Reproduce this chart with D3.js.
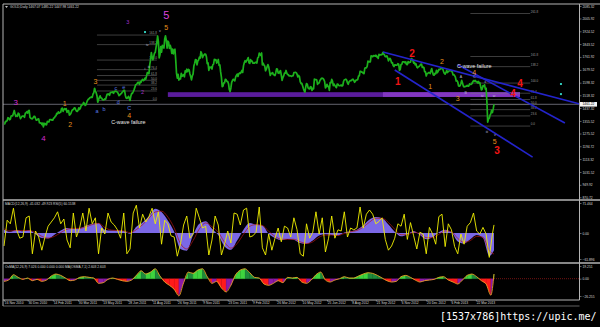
<!DOCTYPE html>
<html>
<head>
<meta charset="utf-8">
<title>GOLD, Daily</title>
<script src="https://cdnjs.cloudflare.com/ajax/libs/d3/7.8.5/d3.min.js"></script>
<style>
  body { margin: 0; background: #000; }
  svg { display: block; }
  text { font-family: "Liberation Sans", Arial, sans-serif; }
</style>
</head>
<body>
<svg id="chart" width="600" height="327"></svg>
<script>
// daily closes, one per bar, 16 Nov 2010 .. 25 Apr 2013
var closes = [
  1338,1337,1353,1352,1359,1376,1374,1363,1366,1386,
  1388,1388,1405,1422,1401,1384,1391,1385,1405,1402,1384,1370,1378,1386,1386,1387,1379,1404,1407,1414,1405,1421,
  1422,1378,1373,1370,1369,1376,1384,1385,1372,1360,1362,1368,1369,1344,1342,1343,1333,1342,1318,1341,1332,
  1339,1331,1353,1349,1349,1364,1364,1364,1360,1361,1374,1375,1385,1388,1404,1401,1413,1405,1409,1411,
  1433,1437,1416,1428,1434,1428,1434,1410,1420,1421,1393,1396,1404,1419,1426,1428,1437,1439,1428,1418,1416,1423,1439,
  1429,1437,1453,1458,1459,1473,1466,1454,1458,1473,1486,1493,1496,1503,1505,1508,1505,1527,1535,1563,
  1545,1535,1516,1475,1490,1505,1515,1501,1500,1492,1489,1490,1496,1494,1510,1526,1524,1527,1518,1536,1537,1536,
  1540,1531,1542,1543,1545,1541,1539,1529,1516,1520,1527,1530,1538,1542,1550,1550,1519,1501,1499,1503,1512,1500,
  1486,1513,1530,1530,1541,1553,1567,1584,1588,1593,1601,1600,1588,1605,1601,1614,1620,1611,1616,1628,
  1621,1642,1663,1659,1655,1713,1742,1790,1761,1744,1763,1785,1791,1822,1852,1895,1857,1756,1775,1828,1793,1835,1826,
  1818,1876,1896,1868,1818,1862,1855,1816,1836,1818,1785,1812,1781,1805,1811,1742,1657,1627,1651,1615,1623,1622,
  1658,1639,1642,1650,1636,1673,1664,1684,1669,1683,1679,1654,1637,1616,1641,1653,1704,1721,1745,1744,1712,
  1736,1743,1760,1755,1795,1783,1758,1770,1775,1781,1779,1761,1719,1724,1677,1697,1694,1698,1685,1712,1716,1746,
  1742,1745,1723,1730,1746,1709,1711,1667,1632,1573,1577,1597,1597,1620,1617,1607,1605,1592,1555,1542,1565,
  1600,1612,1620,1616,1610,1634,1645,1653,1638,1655,1660,1657,1664,1676,1664,1705,1725,1738,1729,1739,
  1745,1758,1725,1721,1745,1734,1736,1722,1722,1722,1728,1727,1723,1756,1759,1786,1776,1771,1787,1711,
  1722,1710,1704,1674,1684,1699,1713,1700,1672,1644,1657,1657,1662,1649,1648,1644,1662,1686,1685,1660,1658,1669,
  1675,1647,1613,1631,1641,1659,1659,1676,1659,1650,1650,1641,1642,1642,1638,1642,1643,1662,1663,1664,
  1662,1652,1635,1644,1638,1605,1593,1594,1579,1561,1547,1539,1572,1593,1589,1565,1560,1559,1573,1571,1549,1563,1560,
  1621,1617,1618,1616,1588,1595,1597,1612,1619,1626,1627,1625,1618,1606,1565,1572,1588,1575,1575,1550,1599,
  1597,1619,1608,1580,1590,1580,1573,1567,1590,1588,1581,1579,1580,1584,1577,1580,1606,1617,1618,1621,1614,
  1597,1588,1604,1609,1612,1612,1618,1621,1613,1601,1608,1615,1616,1618,1640,1642,1670,1671,1666,1666,1657,1656,1690,
  1693,1693,1702,1736,1730,1732,1731,1769,1768,1763,1770,1770,1767,1773,1763,1765,1753,1778,1774,
  1776,1775,1778,1791,1781,1774,1764,1764,1769,1757,1737,1747,1753,1743,1724,1726,1708,1701,1712,1711,1709,1711,1719,
  1716,1676,1683,1714,1716,1731,1731,1731,1725,1730,1714,1713,1733,1725,1728,1729,1751,1749,1741,1723,1728,1712,
  1718,1697,1693,1700,1702,1708,1715,1717,1695,1697,1695,1668,1667,1641,1657,1658,1662,1663,1656,1675,
  1688,1664,1648,1646,1657,1655,1677,1662,1669,1683,1681,1687,1687,1692,1685,1669,1658,1653,1662,1677,1663,
  1669,1673,1675,1677,1671,1667,1648,1649,1644,1634,1609,1611,1603,1578,1576,1580,1593,1613,1597,1578,
  1572,1573,1575,1576,1581,1576,1577,1591,1587,1588,1592,1603,1612,1608,1613,1606,1605,1597,1606,1596,
  1599,1576,1553,1558,1580,1575,1585,1558,1563,1476,1348,1368,1373,1393,1402,1423,1409,1432,1461.22
];

var dateLabels = ["16 Nov 2010","30 Dec 2010","14 Feb 2011","30 Mar 2011","13 May 2011","28 Jun 2011",
  "11 Aug 2011","26 Sep 2011","9 Nov 2011","23 Dec 2011","9 Feb 2012","26 Mar 2012","10 May 2012",
  "25 Jun 2012","8 Aug 2012","21 Sep 2012","6 Nov 2012","20 Dec 2012","6 Feb 2013","22 Mar 2013"];
var dateBars = [0,30,62,94,125,157,188,220,252,284,315,346,378,410,441,472,504,536,567,599];

var priceTicks = [2085.32,2005.92,1924.52,1843.52,1761.92,1679.52,1598.32,1518.32,
  1437.32,1355.52,1275.52,1194.72,1113.32,1031.52,949.92,870.72];
var lastPrice = 1461.22;

// MACD main and signal, one value every 8 bars (last one on the final bar)
var macdVals = [8,3,8,4,7,-3,-12,-13,-4,6,
  12,10,11,17,22,24,8,6,6,5,
  -2,15,25,40,58,50,30,3,-38,-42,
  -5,22,28,10,-5,-32,-40,-18,8,24,
  20,18,-2,-12,-17,-14,-16,-24,-26,-18,
  -6,-3,-5,-6,1,4,8,18,32,38,
  35,20,3,-8,-3,5,-5,-15,-10,2,
  8,2,-20,-25,-15,-5,-12,-55,-41.032];
var macdSignal = [10,5,6,6,6,1,-8,-12,-8,1,
  9,11,11,15,20,23,13,7,6,5,
  1,8,20,35,50,52,38,12,-25,-38,
  -18,10,24,15,2,-22,-36,-25,-3,16,
  20,18,4,-8,-15,-15,-15,-21,-25,-21,
  -10,-5,-5,-6,-1,3,6,14,26,35,
  35,25,9,-4,-4,2,-2,-11,-11,-3,
  5,3,-13,-22,-18,-8,-10,-42,-49.923];
// RSI(5), one value every 4 bars
var rsiVals = [25,68,62,88,52,38,40,72,75,12,
  50,40,18,40,58,65,72,82,62,70,
  35,22,80,40,55,80,50,88,62,72,
  12,55,45,80,65,60,52,38,80,12,
  20,80,93,55,78,65,74,88,62,82,
  28,68,62,42,40,8,28,60,75,38,
  45,88,72,55,58,10,35,75,60,10,
  28,50,30,80,78,60,85,88,40,42,
  48,90,22,10,45,18,38,55,32,58,
  55,40,72,52,12,8,62,38,48,82,
  45,72,15,38,75,38,52,50,82,40,
  55,52,55,90,55,78,85,78,62,66,
  72,36,18,25,38,62,58,78,36,64,
  42,20,48,45,12,56,45,28,74,78,
  24,62,52,24,12,45,28,58,64,80,
  50,45,56,45,6,45,60.1538];
// OsMA, one value every 6 bars
var osmaVals = [-4,-2,6,2,-1,1,-3,-1,-4,-2,
  4,7,5,1,-3,-2,2,3,2,1,
  -7,-6,-1,1,-1,-3,-4,-2,5,12,
  7,10,15,4,-5,-10,-16,-26,-6,10,
  8,13,15,3,-7,-4,-14,-20,-10,6,
  13,15,9,2,1,-8,-10,-7,-3,-6,
  2,1,2,-5,-7,-2,6,10,-2,-5,
  -2,0,3,1,1,4,7,9,8,5,
  1,-3,-5,-4,3,5,2,-2,-5,-3,
  -2,-1,2,3,-2,-5,-8,-2,5,7,
  3,-3,-8,-25,7.026];

// fibonacci retracements: [low, high] and levels
var fibLevels = [0, 23.6, 38.2, 50, 61.8, 76.4, 100, 138.2, 161.8, 261.8];
var fibLeft = {low: 1485, high: 1742, from: 118, to: 194, levels: fibLevels.slice(0, 9), labelAfter: false};
var fibRight = {low: 1323, high: 1596, from: 592, to: 668, levels: fibLevels, labelAfter: true};

// support band (price range, bars)
var band = {lo: 1508, hi: 1538, from: 208, to: 655, brightFrom: 481};

// trend channel lines [bar, price] -> [bar, price]
var channelLines = [
  [[481, 1793], [731, 1463]],
  [[576, 1712], [712, 1342]],
  [[496, 1679], [671, 1126]]
];

// wave counts: bar, price, text, kind
var waveLabels = [
  [15, 1476, "3", "mag"], [50, 1247, "4", "mag"], [206, 2030, "5", "magBig"],
  [77, 1469, "1", "orange"], [84, 1336, "2", "orange"], [116, 1609, "3", "orange"],
  [159, 1393, "4", "orange"], [206, 1950, "5", "orange"],
  [541, 1577, "1", "orange"], [556, 1730, "2", "orange"], [576, 1501, "3", "orange"],
  [597, 1666, "4", "orange"], [623, 1222, "5", "orange"],
  [500, 1609, "1", "red"], [518, 1787, "2", "red"], [626, 1168, "3", "red"],
  [655, 1596, "4", "red"], [646, 1533, "4", "red"],
  [118, 1419, "a", "blue"], [127, 1431, "b", "blue"], [142, 1565, "c", "blue"],
  [145, 1476, "d", "blue"], [152, 1571, "e", "blue"], [159, 1438, "C", "blue"],
  [176, 1539, "2", "magSmall"], [157, 1985, "3", "magSmall"],
  [179, 1685, "i", "tiny"], [184, 1700, "iii", "tiny"], [182, 1838, "iv", "tiny"], [198, 1927, "v", "tiny"],
  [580, 1634, "A", "tiny"], [597, 1634, "C", "tiny"], [611, 1603, "ii", "tiny"], [586, 1533, "B", "tiny"],
  [607, 1514, "iv", "tiny"], [622, 1514, "w", "tiny"], [613, 1285, "iii", "tiny"], [623, 1266, "v", "tiny"]
];
var notes = [[136, 1349, "C-wave failure"], [575, 1704, "C-wave failure"]];
var cyanDots = [[707, 1590], [707, 1526], [179, 1920]];

var labelStyle = {
  mag:      {fill: "#d42ad4", size: 8},
  magBig:   {fill: "#dd44dd", size: 11},
  magSmall: {fill: "#a030c8", size: 5.5},
  orange:   {fill: "#e8901c", size: 7},
  red:      {fill: "#f01414", size: 10},
  blue:     {fill: "#5a7ae8", size: 5.5},
  tiny:     {fill: "#b8b8d0", size: 3.6}
};

var svg = d3.select("#chart");
var lastBar = closes.length - 1;
var plotLeft = 3, plotRight = 579.5;
var mainTop = 4, mainBottom = 199.5;
var macdTop = 200.5, macdBottom = 262;
var osmaTop = 263.5, osmaBottom = 300;

var x = d3.scaleLinear().domain([0, lastBar]).range([4, 494]);
var yPrice = d3.scaleLinear().domain([870.72, 2085.32]).range([197.3, 6]);
var yMacd = d3.scaleLinear().domain([-61.896, 71.464]).range([259, 203]);
var yRsi = d3.scaleLinear().domain([0, 100]).range([261, 201]);
var yOsma = d3.scaleLinear().domain([-26.255, 19.251]).range([296, 266]);

function stepped(vals, step) {
  return vals.map(function(v, i) { return {bar: Math.min(i * step, lastBar), v: v}; });
}

svg.append("rect").attr("width", 600).attr("height", 327).attr("fill", "#000");

var defs = svg.append("defs");
function clip(id, y0, y1) {
  defs.append("clipPath").attr("id", id).append("rect")
    .attr("x", plotLeft).attr("y", y0).attr("width", plotRight - plotLeft).attr("height", y1 - y0);
  return svg.append("g").attr("clip-path", "url(#" + id + ")");
}

// ---------- main panel ----------
var main = clip("clipMain", mainTop, mainBottom);

main.append("rect")
  .attr("x", x(band.from)).attr("width", x(band.to) - x(band.from))
  .attr("y", yPrice(band.hi)).attr("height", yPrice(band.lo) - yPrice(band.hi))
  .attr("fill", "#5a1c9c");
main.append("rect")
  .attr("x", x(band.brightFrom)).attr("width", x(band.to) - x(band.brightFrom))
  .attr("y", yPrice(band.hi)).attr("height", yPrice(band.lo) - yPrice(band.hi))
  .attr("fill", "#8a3cc8").attr("opacity", 0.85);

main.append("line")
  .attr("x1", plotLeft).attr("x2", plotRight)
  .attr("y1", yPrice(lastPrice)).attr("y2", yPrice(lastPrice))
  .attr("stroke", "#a8a8b8").attr("stroke-width", 0.6);

function drawFib(f) {
  var g = main.append("g");
  f.levels.forEach(function(l) {
    var p = f.low + (f.high - f.low) * l / 100;
    g.append("line").attr("x1", x(f.from)).attr("x2", x(f.to))
      .attr("y1", yPrice(p)).attr("y2", yPrice(p))
      .attr("stroke", "#7a7a7a").attr("stroke-width", 0.5);
    g.append("text").attr("x", f.labelAfter ? x(f.to) + 0.5 : x(f.to)).attr("y", yPrice(p) - 0.6)
      .attr("text-anchor", f.labelAfter ? "start" : "end").attr("fill", "#9a9a9a").style("font-size", "3px")
      .text(d3.format(".1f")(l));
  });
}
drawFib(fibLeft);
drawFib(fibRight);

var priceLine = d3.line().x(function(d, i) { return x(i); }).y(function(d) { return yPrice(d); });
main.append("path").attr("d", priceLine(closes))
  .attr("fill", "none").attr("stroke", "#1cb01c").attr("stroke-width", 1.7)
  .attr("stroke-linejoin", "round");

channelLines.forEach(function(l) {
  main.append("line")
    .attr("x1", x(l[0][0])).attr("y1", yPrice(l[0][1]))
    .attr("x2", x(l[1][0])).attr("y2", yPrice(l[1][1]))
    .attr("stroke", "#2424cc").attr("stroke-width", 1.6);
});

cyanDots.forEach(function(d) {
  main.append("rect").attr("x", x(d[0]) - 1).attr("y", yPrice(d[1]) - 1)
    .attr("width", 2).attr("height", 2).attr("fill", "#30c8b8");
});

waveLabels.forEach(function(w) {
  var s = labelStyle[w[3]];
  main.append("text").attr("x", x(w[0])).attr("y", yPrice(w[1])).attr("dy", "0.36em")
    .attr("text-anchor", "middle").attr("fill", s.fill)
    .style("font-size", s.size + "px").style("font-weight", w[3] === "red" ? "bold" : "normal")
    .text(w[2]);
});

notes.forEach(function(n) {
  main.append("text").attr("x", x(n[0])).attr("y", yPrice(n[1])).attr("dy", "0.36em")
    .attr("fill", "#e8e8e8").style("font-size", "5.4px").text(n[2]);
});

svg.append("text").attr("x", 10).attr("y", 8).attr("fill", "#d8d8d8").style("font-size", "3.3px")
  .text("GOLD,Daily  1467.07 1485.22 1447.98 1461.22");
svg.append("path").attr("d", "M5,6 L8,6 L6.5,8 Z").attr("fill", "#c0c0c0");

// ---------- MACD panel ----------
var macdG = clip("clipMacd", macdTop, macdBottom);
var macdPts = stepped(macdVals, 8);
var sigPts = stepped(macdSignal, 8);
var rsiPts = stepped(rsiVals, 4);

macdG.append("path")
  .attr("d", d3.area().x(function(d) { return x(d.bar); }).y0(yMacd(0)).y1(function(d) { return yMacd(d.v); })
    .curve(d3.curveMonotoneX)(macdPts))
  .attr("fill", "#7b68e6");
macdG.append("path")
  .attr("d", d3.line().x(function(d) { return x(d.bar); }).y(function(d) { return yMacd(d.v); })
    .curve(d3.curveMonotoneX)(sigPts))
  .attr("fill", "none").attr("stroke", "#b01414").attr("stroke-width", 0.7);
macdG.append("path")
  .attr("d", d3.line().x(function(d) { return x(d.bar); }).y(function(d) { return yRsi(d.v); })(rsiPts))
  .attr("fill", "none").attr("stroke", "#f2f000").attr("stroke-width", 0.9);

svg.append("text").attr("x", 5).attr("y", 204.8).attr("fill", "#d8d8d8").style("font-size", "3.3px")
  .text("MACD(12,26,9) -41.032 -49.923  RSI(5) 60.1538");

// ---------- OsMA panel ----------
var osmaG = clip("clipOsma", osmaTop, osmaBottom);
var osmaPts = stepped(osmaVals, 6);

function osmaColor(v, rising) {
  if (v >= 0) return rising ? "#3ed43e" : "#1f8a3c";
  return rising ? "#8c1aa8" : "#ff1a1a";
}
function osmaPiece(a, b, col) {
  var z = yOsma(0);
  osmaG.append("path")
    .attr("d", "M" + x(a.bar) + "," + z + "L" + x(a.bar) + "," + yOsma(a.v) +
      "L" + x(b.bar) + "," + yOsma(b.v) + "L" + x(b.bar) + "," + z + "Z")
    .attr("fill", col).attr("stroke", col).attr("stroke-width", 0.3);
}
for (var i = 1; i < osmaPts.length; i++) {
  var a = osmaPts[i - 1], b = osmaPts[i];
  var rising = b.v >= a.v;
  if ((a.v >= 0) === (b.v >= 0)) {
    osmaPiece(a, b, osmaColor(b.v, rising));
  } else {
    var t = a.v / (a.v - b.v);
    var m = {bar: a.bar + t * (b.bar - a.bar), v: 0};
    osmaPiece(a, m, osmaColor(a.v, rising));
    osmaPiece(m, b, osmaColor(b.v, rising));
  }
}
osmaG.append("path")
  .attr("d", d3.line().x(function(d) { return x(d.bar); }).y(function(d) { return yOsma(d.v); })
    .curve(d3.curveMonotoneX)(osmaPts))
  .attr("fill", "none").attr("stroke", "#eaa024").attr("stroke-width", 0.9);
osmaG.append("line")
  .attr("x1", x(lastBar)).attr("x2", plotRight).attr("y1", yOsma(0)).attr("y2", yOsma(0))
  .attr("stroke", "#c02020").attr("stroke-width", 0.6).attr("stroke-dasharray", "1,1");

svg.append("text").attr("x", 5).attr("y", 268).attr("fill", "#d8d8d8").style("font-size", "3.3px")
  .text("OsMA(12,26,9) 7.026 0.000 0.000 0.000  MA(OSMA,7,1) 2.603 2.603");

// ---------- frames ----------
var frame = svg.append("g").attr("stroke", "#b4b4b4").attr("fill", "none");
frame.append("line").attr("x1", plotLeft).attr("x2", 600).attr("y1", mainTop).attr("y2", mainTop);
frame.append("line").attr("x1", plotLeft).attr("x2", plotLeft).attr("y1", mainTop).attr("y2", 306);
frame.append("line").attr("x1", plotRight).attr("x2", plotRight).attr("y1", mainTop).attr("y2", osmaBottom);
frame.append("line").attr("x1", plotLeft).attr("x2", 600).attr("y1", 200).attr("y2", 200).attr("stroke-width", 1.4);
frame.append("line").attr("x1", plotLeft).attr("x2", 600).attr("y1", 263).attr("y2", 263).attr("stroke-width", 1.4);
frame.append("line").attr("x1", plotLeft).attr("x2", plotRight).attr("y1", osmaBottom).attr("y2", osmaBottom);
frame.append("line").attr("x1", plotLeft).attr("x2", plotRight).attr("y1", 306).attr("y2", 306)
  .attr("stroke", "#8a8a8a").attr("stroke-width", 0.7);

// ---------- axes ----------
function styleAxis(g) {
  g.select(".domain").remove();
  g.selectAll("line").attr("stroke", "#c0c0c0").attr("stroke-width", 0.5);
  g.selectAll("text").attr("fill", "#d8d8d8").style("font-size", "3.3px")
    .style("font-family", "'Liberation Sans', Arial, sans-serif");
}
var valFmt = function(d) { return d === 0 ? "0.00" : d3.format(".3f")(d); };

svg.append("g").attr("transform", "translate(" + plotRight + ",0)")
  .call(d3.axisRight(yPrice).tickValues(priceTicks).tickFormat(d3.format(".2f")).tickSize(2).tickPadding(1))
  .call(styleAxis);
svg.append("g").attr("transform", "translate(" + plotRight + ",0)")
  .call(d3.axisRight(yMacd).tickValues([71.464, 0, -61.896]).tickFormat(valFmt).tickSize(2).tickPadding(1))
  .call(styleAxis);
svg.append("g").attr("transform", "translate(" + plotRight + ",0)")
  .call(d3.axisRight(yOsma).tickValues([19.251, 0, -26.255]).tickFormat(valFmt).tickSize(2).tickPadding(1))
  .call(styleAxis);

var priceBox = svg.append("g").attr("transform", "translate(" + (plotRight + 0.5) + "," + yPrice(lastPrice) + ")");
priceBox.append("rect").attr("x", 0).attr("y", -2.3).attr("width", 17).attr("height", 4.6).attr("fill", "#f4f4f4");
priceBox.append("text").attr("x", 2.5).attr("dy", "0.36em").attr("fill", "#000").style("font-size", "3.3px")
  .text(d3.format(".2f")(lastPrice));

svg.append("g").attr("transform", "translate(0," + osmaBottom + ")")
  .call(d3.axisBottom(x).tickValues(dateBars).tickFormat(function(d, i) { return dateLabels[i]; })
    .tickSize(1.5).tickPadding(0.3))
  .call(styleAxis)
  .selectAll("text").attr("text-anchor", "start").attr("dx", "0.3");

// watermark
svg.append("text").attr("x", 440).attr("y", 320).attr("fill", "#ffffff")
  .style("font-family", "'DejaVu Sans Mono', monospace").style("font-size", "10px")
  .text("[1537x786]https://upic.me/");
</script>
</body>
</html>
